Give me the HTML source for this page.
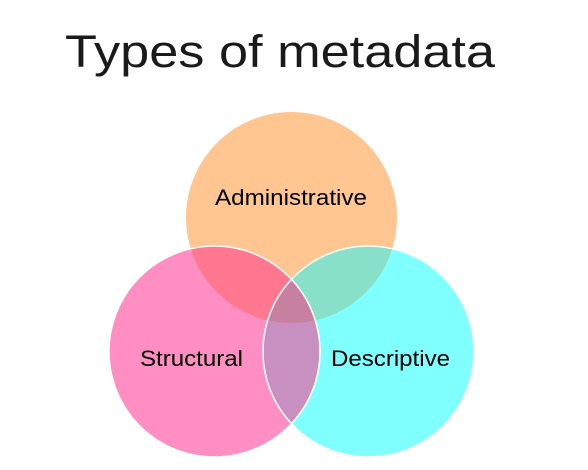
<!DOCTYPE html>
<html><head><meta charset="utf-8"><style>
html,body{margin:0;padding:0;background:#fff;}
svg{display:block;}
</style></head><body>
<svg width="588" height="470" viewBox="0 0 588 470" xmlns="http://www.w3.org/2000/svg">
<defs>
<clipPath id="cO"><circle cx="291.5" cy="217.5" r="105.5"/></clipPath>
<clipPath id="cP"><circle cx="214.5" cy="351.5" r="105.5"/></clipPath>
<clipPath id="cC"><circle cx="368.5" cy="351.5" r="105.5"/></clipPath>
</defs>
<text x="65" y="67" font-family="Liberation Sans, sans-serif" font-size="45" fill="#1a1a1a" textLength="430" lengthAdjust="spacingAndGlyphs">Types of metadata</text>
<circle cx="291.5" cy="217.5" r="105.5" fill="#FFC692"/>
<circle cx="214.5" cy="351.5" r="105.5" fill="#FF8FC2"/>
<circle cx="368.5" cy="351.5" r="105.5" fill="#80FFFF"/>
<g clip-path="url(#cO)"><circle cx="214.5" cy="351.5" r="105.5" fill="#FF7890"/><circle cx="368.5" cy="351.5" r="105.5" fill="#88E0C8"/></g>
<g clip-path="url(#cP)"><circle cx="368.5" cy="351.5" r="105.5" fill="#C890C0"/></g>
<g clip-path="url(#cP)"><g clip-path="url(#cO)"><circle cx="368.5" cy="351.5" r="105.5" fill="#C880A0"/></g></g>
<circle cx="214.5" cy="351.5" r="105.5" fill="none" stroke="#fff" stroke-width="1.5"/>
<circle cx="368.5" cy="351.5" r="105.5" fill="none" stroke="#fff" stroke-width="1.5"/>
<g font-family="Liberation Sans, sans-serif" font-size="22" fill="#000">
<text x="215" y="205" textLength="152" lengthAdjust="spacingAndGlyphs">Administrative</text>
<text x="140" y="366" textLength="103" lengthAdjust="spacingAndGlyphs">Structural</text>
<text x="331" y="366" textLength="119" lengthAdjust="spacingAndGlyphs">Descriptive</text>
</g>
</svg>
</body></html>
